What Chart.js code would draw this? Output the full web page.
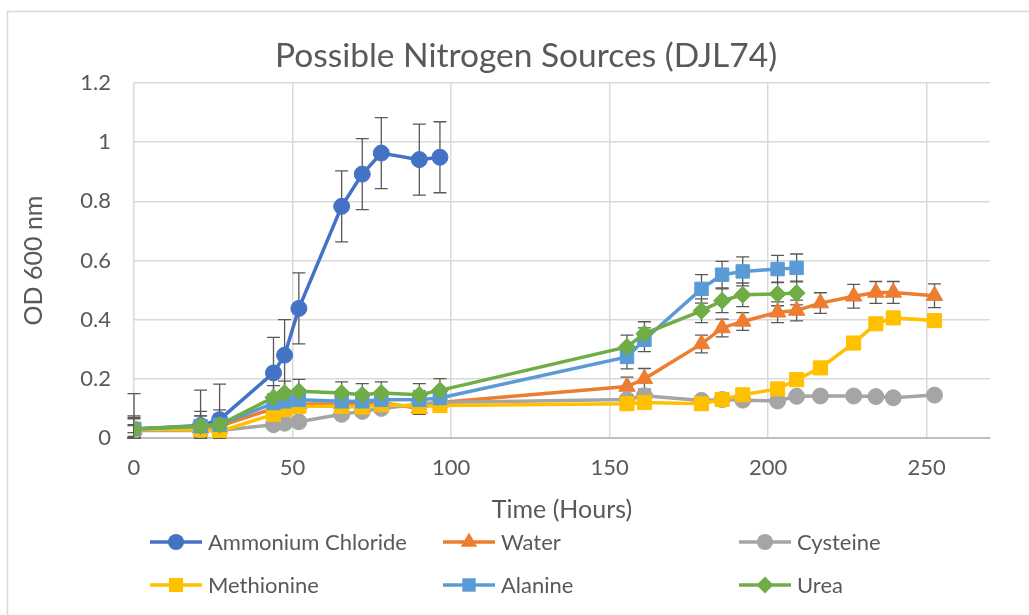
<!DOCTYPE html>
<html>
<head>
<meta charset="utf-8">
<title>Possible Nitrogen Sources (DJL74)</title>
<script src="https://cdn.jsdelivr.net/npm/chart.js"></script>
<style>
  html, body { margin: 0; padding: 0; background: #fff; }
</style>
</head>
<body>
<canvas id="chart" width="1029" height="615"></canvas>
<script>
"use strict";

// sampling times (hours)
const earlyHours = [0, 21, 27, 44, 47.5, 52, 65.5, 72, 78, 90, 96.5];
const lateHours = [155.5, 161, 179, 185.5, 192, 203, 209, 216.5, 227, 234, 239.5, 252.5];

// OD 600 readings per nitrogen source
const ammoniumOD = [0.03, 0.042, 0.062, 0.22, 0.28, 0.438, 0.783, 0.892, 0.963, 0.941, 0.949];
const waterOD = [0.03, 0.035, 0.04, 0.1, 0.11, 0.115, 0.115, 0.115, 0.12, 0.1, 0.12,
  0.174, 0.2, 0.318, 0.372, 0.394, 0.425, 0.431, 0.456, 0.479, 0.492, 0.492, 0.481];
const cysteineOD = [0.025, 0.025, 0.025, 0.045, 0.05, 0.055, 0.08, 0.09, 0.1, 0.115, 0.12,
  0.13, 0.143, 0.127, 0.13, 0.128, 0.125, 0.141, 0.142, 0.142, 0.14, 0.136, 0.145];
const methionineOD = [0.03, 0.028, 0.022, 0.08, 0.096, 0.107, 0.107, 0.105, 0.113, 0.107, 0.11,
  0.116, 0.12, 0.116, 0.13, 0.146, 0.166, 0.197, 0.237, 0.321, 0.386, 0.406, 0.397];
const alanineOD = [0.03, 0.04, 0.045, 0.118, 0.124, 0.129, 0.124, 0.124, 0.129, 0.129, 0.135,
  0.274, 0.332, 0.504, 0.552, 0.563, 0.571, 0.575];
const ureaOD = [0.03, 0.04, 0.045, 0.137, 0.152, 0.158, 0.152, 0.146, 0.152, 0.146, 0.161,
  0.308, 0.353, 0.43, 0.464, 0.484, 0.487, 0.49];

// error bar sizes (+/-)
const ammoniumErr = [0.12, 0.12, 0.12, 0.12, 0.12, 0.12, 0.12, 0.12, 0.12, 0.12, 0.12];
const waterErr = [0.04, 0.04, 0.04, 0.03, 0.03, 0.03, 0.03, 0.03, 0.03, 0.02, 0.03,
  0.032, 0.035, 0.03, 0.03, 0.03, 0.035, 0.035, 0.035, 0.04, 0.037, 0.037, 0.04];
const cysteineErr = [0.02, 0.02, 0.02, 0.012, 0.012, 0.012, 0.012, 0.012, 0.012, 0.012, 0.012,
  0.012, 0.012, 0.012, 0.012, 0.012, 0.012, 0.012, 0.012, 0.012, 0.012, 0.012, 0.012];
const methionineErr = [0.012, 0.012, 0.012, 0.012, 0.012, 0.012, 0.012, 0.012, 0.012, 0.02, 0.012,
  0.012, 0.012, 0.012, 0.012, 0.012, 0.012, 0.012, 0.012, 0.012, 0.012, 0.012, 0.012];
const alanineErr = [0.035, 0.035, 0.035, 0.03, 0.03, 0.03, 0.03, 0.03, 0.03, 0.03, 0.03,
  0.04, 0.04, 0.048, 0.045, 0.049, 0.046, 0.047];
const ureaErr = [0.045, 0.05, 0.05, 0.04, 0.04, 0.04, 0.038, 0.038, 0.038, 0.038, 0.04,
  0.04, 0.04, 0.04, 0.04, 0.04, 0.04, 0.04];

const seriesNames = ["Ammonium Chloride", "Water", "Cysteine", "Methionine", "Alanine", "Urea"];
const seriesColors = ["#4472C4", "#ED7D31", "#A5A5A5", "#FFC000", "#5B9BD5", "#70AD47"];
const seriesMarkers = ["circle", "triangle", "circle", "rect", "rect", "rectRot"];
const markerSizes = [8, 9.5, 8, 10, 9.5, 8.5];

const allHours = earlyHours.concat(lateHours);
const seriesHours = [earlyHours, allHours, allHours, allHours, allHours.slice(0, 18), allHours.slice(0, 18)];
const seriesValues = [ammoniumOD, waterOD, cysteineOD, methionineOD, alanineOD, ureaOD];
const seriesErrors = [ammoniumErr, waterErr, cysteineErr, methionineErr, alanineErr, ureaErr];

const chartTitle = "Possible Nitrogen Sources (DJL74)";
const textColor = "#595959";
const fontName = "Lato";

const datasets = [];
for (let i = 0; i < seriesNames.length; i++) {
  const points = [];
  for (let j = 0; j < seriesValues[i].length; j++) {
    points.push({ x: seriesHours[i][j], y: seriesValues[i][j] });
  }
  datasets.push({
    label: seriesNames[i],
    data: points,
    errors: seriesErrors[i],
    borderColor: seriesColors[i],
    backgroundColor: seriesColors[i],
    borderWidth: 3.5,
    pointStyle: seriesMarkers[i],
    pointRadius: markerSizes[i],
    pointBorderWidth: 1,
    pointBackgroundColor: seriesColors[i],
    pointBorderColor: seriesColors[i],
    tension: 0,
    fill: false,
    order: seriesNames.length - i   // last series on top like Excel
  });
}

function drawMarker(ctx, style, x, y, r) {
  ctx.beginPath();
  if (style === "circle") {
    ctx.arc(x, y, r, 0, Math.PI * 2);
  } else if (style === "rect") {
    const s = r * Math.SQRT1_2;
    ctx.rect(x - s, y - s, 2 * s, 2 * s);
  } else if (style === "triangle") {
    for (let k = 0; k < 3; k++) {
      const a = k * 2 * Math.PI / 3;
      const px = x + Math.sin(a) * r, py = y - Math.cos(a) * r;
      if (k === 0) ctx.moveTo(px, py); else ctx.lineTo(px, py);
    }
    ctx.closePath();
  } else {
    ctx.moveTo(x, y - r);
    ctx.lineTo(x + r, y);
    ctx.lineTo(x, y + r);
    ctx.lineTo(x - r, y);
    ctx.closePath();
  }
  ctx.fill();
}

// chart frame, white background and the title (centred on the frame like Excel)
const frame = {
  id: "frame",
  beforeDraw(chart) {
    const ctx = chart.ctx;
    ctx.save();
    ctx.fillStyle = "#fff";
    ctx.fillRect(0, 0, chart.width, chart.height);
    ctx.strokeStyle = "#d9d9d9";
    ctx.lineWidth = 1.5;
    ctx.strokeRect(7.5, 11.5, chart.width + 20, chart.height + 20);
    ctx.fillStyle = textColor;
    ctx.font = "33.5px " + fontName;
    ctx.textAlign = "center";
    ctx.textBaseline = "middle";
    ctx.fillText(chartTitle, 526, 56);
    ctx.restore();
  }
};

// vertical error bars, drawn under the series
const errorBars = {
  id: "errorBars",
  beforeDatasetsDraw(chart) {
    const ctx = chart.ctx;
    const xs = chart.scales.x, ys = chart.scales.y;
    ctx.save();
    ctx.strokeStyle = textColor;
    ctx.lineWidth = 1.3;
    chart.data.datasets.forEach(ds => {
      ds.data.forEach((p, i) => {
        const e = ds.errors[i];
        const px = xs.getPixelForValue(p.x);
        const top = ys.getPixelForValue(p.y + e);
        const bot = ys.getPixelForValue(Math.max(p.y - e, 0));
        ctx.beginPath();
        ctx.moveTo(px, top); ctx.lineTo(px, bot);
        ctx.moveTo(px - 6.5, top); ctx.lineTo(px + 6.5, top);
        ctx.moveTo(px - 6.5, bot); ctx.lineTo(px + 6.5, bot);
        ctx.stroke();
      });
    });
    ctx.restore();
  }
};

// Excel style legend: 3 fixed columns, 2 rows
const legendCols = [150, 443, 739];
const legendRows = [542, 585];
const sheetLegend = {
  id: "sheetLegend",
  afterDraw(chart) {
    const ctx = chart.ctx;
    ctx.save();
    ctx.font = "22px " + fontName;
    ctx.textBaseline = "middle";
    ctx.textAlign = "left";
    chart.data.datasets.forEach((ds, i) => {
      const x = legendCols[i % 3], y = legendRows[Math.floor(i / 3)];
      ctx.strokeStyle = ds.borderColor;
      ctx.lineWidth = 3.5;
      ctx.beginPath();
      ctx.moveTo(x, y); ctx.lineTo(x + 52, y);
      ctx.stroke();
      ctx.fillStyle = ds.borderColor;
      drawMarker(ctx, ds.pointStyle, x + 26, y, ds.pointRadius);
      ctx.fillStyle = textColor;
      ctx.fillText(ds.label, x + 58, y + 1);
    });
    ctx.restore();
  }
};

const config = {
  type: "line",
  data: { datasets: datasets },
  options: {
    responsive: false,
    animation: false,
    devicePixelRatio: 1,
    layout: { padding: { top: 83, left: 19, right: 39, bottom: 90 } },
    plugins: {
      legend: { display: false },
      tooltip: { enabled: false },
      title: { display: false }
    },
    scales: {
      x: {
        type: "linear",
        min: 0,
        max: 270,
        afterBuildTicks(scale) {
          scale.ticks = scale.ticks.filter(t => t.value % 50 === 0);
        },
        afterFit(scale) { scale.height = 87; },
        ticks: { stepSize: 50, padding: 17, color: textColor, font: { family: fontName, size: 22 } },
        grid: { color: "#d9d9d9", lineWidth: 1.5, drawTicks: false },
        border: { color: "#bfbfbf", width: 2 },
        title: {
          display: true,
          text: "Time (Hours)",
          color: textColor,
          font: { family: fontName, size: 25 },
          padding: 0
        }
      },
      y: {
        min: 0,
        max: 1.2,
        afterFit(scale) { scale.width = 115; },
        ticks: {
          stepSize: 0.2,
          padding: 23,
          color: textColor,
          font: { family: fontName, size: 22 },
          callback: value => String(Math.round(value * 10) / 10)
        },
        grid: { color: "#d9d9d9", lineWidth: 1.5, drawTicks: false },
        border: { display: false },
        title: {
          display: true,
          text: "OD 600 nm",
          color: textColor,
          font: { family: fontName, size: 25 },
          padding: 0
        }
      }
    }
  },
  plugins: [frame, errorBars, sheetLegend]
};

const nitrogenChart = new Chart(document.getElementById("chart"), config);
</script>
</body>
</html>
